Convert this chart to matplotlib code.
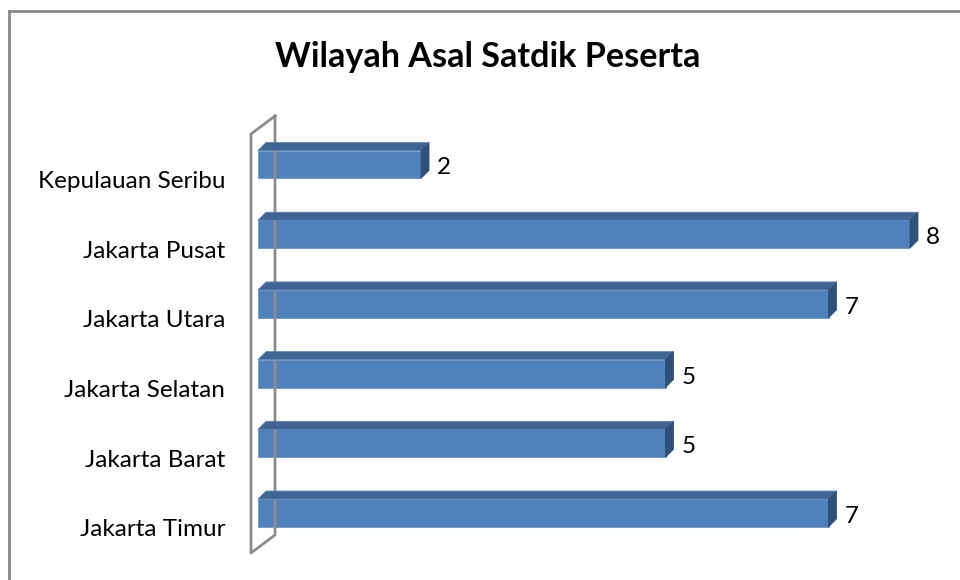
import matplotlib
matplotlib.use("Agg")
import matplotlib.pyplot as plt
from matplotlib.patches import Polygon
from matplotlib.transforms import IdentityTransform, offset_copy
from matplotlib.lines import Line2D

categories = ["Jakarta Timur", "Jakarta Barat", "Jakarta Selatan",
              "Jakarta Utara", "Jakarta Pusat", "Kepulauan Seribu"]
values = [7, 5, 5, 7, 8, 2]
title = "Wilayah Asal Satdik Peserta"

W, H = 960, 580
fig = plt.figure(figsize=(9.6, 5.8), dpi=100)
fig.patch.set_facecolor("white")

FONT = ["Lato", "DejaVu Sans"]

# axes in pixel positions
left_px, right_px = 258, 910
bot_px, top_px = 32.15, 450.35
ax = fig.add_axes([left_px / W, bot_px / H, (right_px - left_px) / W, (top_px - bot_px) / H])
ax.set_xlim(0, 8)
ax.set_ylim(-0.5, 5.5)
ax.axis("off")

ypos = list(range(len(categories)))
bh = 0.40
front = "#4F81BD"
topc = "#3E6594"
sidec = "#2F5079"
dx, dy = 8, 8

# back wall (gray outline), in display coords relative to axes origin
wall_col = "#8C8C8C"
x0d, _ = ax.transData.transform((0, 0))
wall = [(x0d + 17, H - 116), (x0d - 7, H - 134), (x0d - 7, H - 553), (x0d + 17, H - 535)]
wall_line = Line2D([p[0] for p in wall] + [wall[0][0]], [p[1] for p in wall] + [wall[0][1]],
                   transform=IdentityTransform(), color=wall_col, lw=2.0, zorder=1)
fig.add_artist(wall_line)

for y, v in zip(ypos, values):
    (xa, ya) = ax.transData.transform((0, y - bh / 2))
    (xb, yb2) = ax.transData.transform((v, y + bh / 2))
    topf = Polygon([(xa, yb2), (xb, yb2), (xb + dx, yb2 + dy), (xa + dx, yb2 + dy)],
                   closed=True, transform=IdentityTransform(), facecolor=topc,
                   edgecolor="#5A80B0", lw=0.6, zorder=3)
    side = Polygon([(xb, ya), (xb, yb2), (xb + dx, yb2 + dy), (xb + dx, ya + dy)],
                   closed=True, transform=IdentityTransform(), facecolor=sidec,
                   edgecolor=sidec, lw=0.6, zorder=3)
    fig.add_artist(topf)
    fig.add_artist(side)

ax.barh(ypos, values, height=bh, color=front, edgecolor="#6F93C4", linewidth=0.6, zorder=4)

# value labels
val_tr = offset_copy(ax.transData, fig=fig, x=16, y=-10, units="dots")
for y, v in zip(ypos, values):
    ax.text(v, y, str(v), transform=val_tr, ha="left", va="baseline",
            fontsize=17.5, family=FONT, color="black")

# category labels
cat_tr = offset_copy(ax.transData, fig=fig, x=-33, y=-23.5, units="dots")
for y, c in zip(ypos, categories):
    ax.text(0, y, c, transform=cat_tr, ha="right", va="baseline",
            fontsize=17.5, family=FONT, color="black")

fig.text(488 / W, 1 - 67 / H, title, ha="center", va="baseline",
         fontsize=24.6, fontweight="bold", family=FONT, color="black")

# outer border (top & left visible)
fig.add_artist(Line2D([9 / W, 1.0], [1 - 10.5 / H, 1 - 10.5 / H], transform=fig.transFigure,
                      color="#878787", lw=2))
fig.add_artist(Line2D([9 / W, 9 / W], [1 - 10.5 / H, 0], transform=fig.transFigure,
                      color="#878787", lw=2))

fig.savefig("out.png", dpi=100)
